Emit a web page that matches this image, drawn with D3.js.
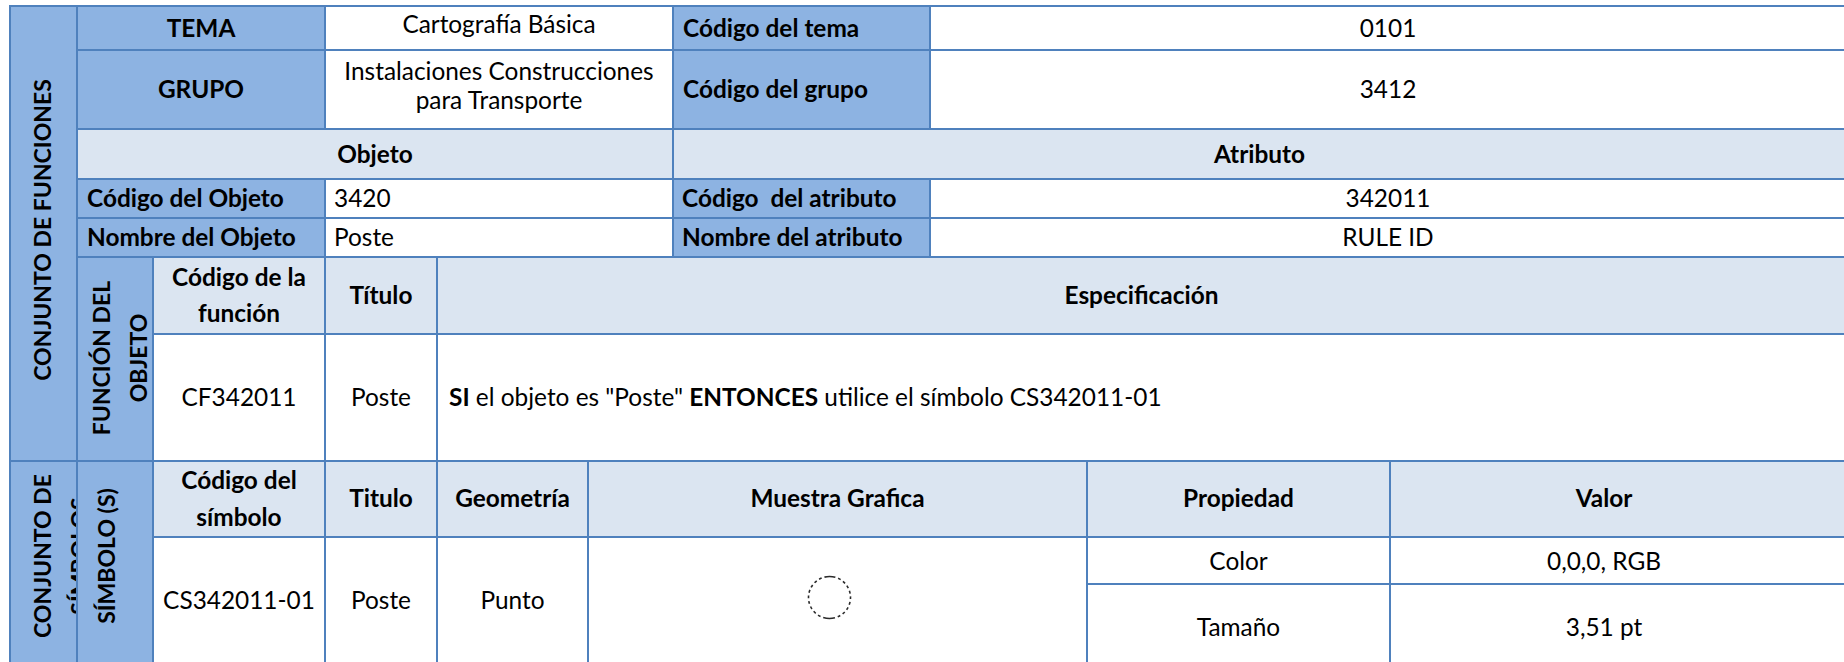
<!DOCTYPE html>
<html><head><meta charset="utf-8">
<script src="https://cdn.jsdelivr.net/npm/d3@7"></script>
<style>
html,body{margin:0;padding:0;background:#fff;overflow:hidden}
svg{display:block}
text{font-family:Lato,"Open Sans",sans-serif;fill:#000}
</style></head><body><svg id="c" width="1844" height="662"></svg>
<script>
// ---------------- data (texts of the table) ----------------
const temaRow = ["TEMA", "Cartografía Básica", "Código del tema", "0101"];
const grupoRow = ["GRUPO", ["Instalaciones Construcciones", "para Transporte"], "Código del grupo", "3412"];
const sectionHeaders = ["Objeto", "Atributo"];
const objetoCodeRow = ["Código del Objeto", "3420", "Código  del atributo", "342011"];
const objetoNameRow = ["Nombre del Objeto", "Poste", "Nombre del atributo", "RULE ID"];
const groupLabels = [["CONJUNTO DE FUNCIONES"], ["CONJUNTO DE", "SÍMBOLOS"]];
const subgroupLabels = [["FUNCIÓN DEL", "OBJETO"], ["SÍMBOLO (S)"]];
const functionHeaders = [["Código de la", "función"], "Título", "Especificación"];
const functionRow = ["CF342011", "Poste"];
const specParts = [["SI", true], [" el objeto es \"Poste\" ", false], ["ENTONCES", true], [" utilice el símbolo CS342011-01", false]];
const symbolHeaders = [["Código del", "símbolo"], "Titulo", "Geometría", "Muestra Grafica", "Propiedad", "Valor"];
const symbolRow = ["CS342011-01", "Poste", "Punto"];
const propNames = ["Color", "Tamaño"];
const propValues = ["0,0,0, RGB", "3,51 pt"];

// ---------------- layout ----------------
const X = d3.scaleOrdinal()
  .domain(["L", "g", "s", "lab", "tit", "geo", "mid", "code", "mue", "prop", "Rv", "R"])
  .range([10, 77, 153, 325, 437, 588, 673, 930, 1087, 1390, 1818, 1846]);
const Y = d3.scaleOrdinal()
  .domain(["r0", "r1", "r2", "r3", "r4", "r5", "r6", "r7", "r8", "r9", "B"])
  .range([6, 50, 129, 179, 218, 257, 334, 461, 537, 584, 664]);

const FS = 24.4, FSV = 23;
const COL = {label: "#8DB3E2", head: "#DBE5F1", val: "#FFFFFF", line: "#4F81BD"};

const cells = [];
function cell(c0, c1, r0, r1, fill, text, opt) {
  cells.push(Object.assign({c0, c1, r0, r1, fill, text}, opt || {}));
}
// left group columns
cell("L", "g", "r0", "r7", "label", groupLabels[0], {vertical: true, base: [51], cy: 230});
cell("L", "g", "r7", "B", "label", groupLabels[1], {vertical: true, base: [51, 88], cy: 556, clip: true});
// header block rows
[[temaRow, "r0", "r1"], [grupoRow, "r1", "r2"]].forEach(([row, a, b]) => {
  cell("g", "lab", a, b, "label", row[0], {bold: true});
  cell("lab", "mid", a, b, "val", row[1], {gap: 28.5, shift: -3.5});
  cell("mid", "code", a, b, "label", row[2], {bold: true, align: "left"});
  cell("code", "R", a, b, "val", row[3]);
});
cell("g", "mid", "r2", "r3", "head", sectionHeaders[0], {bold: true});
cell("mid", "R", "r2", "r3", "head", sectionHeaders[1], {bold: true});
[[objetoCodeRow, "r3", "r4"], [objetoNameRow, "r4", "r5"]].forEach(([row, a, b]) => {
  cell("g", "lab", a, b, "label", row[0], {bold: true, align: "left"});
  cell("lab", "mid", a, b, "val", row[1], {align: "left", pad: 9});
  cell("mid", "code", a, b, "label", row[2], {bold: true, align: "left", pad: 9});
  cell("code", "R", a, b, "val", row[3]);
});
// function block
cell("g", "s", "r5", "r7", "label", subgroupLabels[0], {vertical: true, base: [110, 147], cy: 358, clip: true});
cell("s", "lab", "r5", "r6", "head", functionHeaders[0], {bold: true, gap: 36.6});
cell("lab", "tit", "r5", "r6", "head", functionHeaders[1], {bold: true});
cell("tit", "R", "r5", "r6", "head", functionHeaders[2], {bold: true});
cell("s", "lab", "r6", "r7", "val", functionRow[0]);
cell("lab", "tit", "r6", "r7", "val", functionRow[1]);
cell("tit", "R", "r6", "r7", "val", null, {rich: specParts, align: "left", pad: 12});
// symbol block
cell("g", "s", "r7", "B", "label", subgroupLabels[1], {vertical: true, base: [115], cy: 556});
const symCols = [["s", "lab"], ["lab", "tit"], ["tit", "geo"], ["geo", "mue"], ["mue", "prop"], ["prop", "R"]];
symbolHeaders.forEach((h, i) => {
  cell(symCols[i][0], symCols[i][1], "r7", "r8", "head", h,
       {bold: true, gap: 37, shift: -0.5, cx: i === 5 ? "Rv" : null});
});
symbolRow.forEach((t, i) => cell(symCols[i][0], symCols[i][1], "r8", "B", "val", t));
cell("geo", "mue", "r8", "B", "val", null, {symbol: true});
[["r8", "r9"], ["r9", "B"]].forEach(([a, b], i) => {
  cell("mue", "prop", a, b, "val", propNames[i], {shift: i === 1 ? 3 : 1});
  cell("prop", "R", a, b, "val", propValues[i], {cx: "Rv", shift: i === 1 ? 3 : 1});
});

// ---------------- render ----------------
const svg = d3.select("#c");
const defs = svg.append("defs");
const gFill = svg.append("g");
const gText = svg.append("g");
const gLine = svg.append("g");

cells.forEach((d, i) => {
  const x0 = X(d.c0), x1 = X(d.c1), y0 = Y(d.r0), y1 = Y(d.r1);
  gFill.append("rect").attr("x", x0).attr("y", y0)
    .attr("width", x1 - x0).attr("height", y1 - y0).attr("fill", COL[d.fill]);
  gLine.append("rect").attr("x", x0).attr("y", y0)
    .attr("width", x1 - x0).attr("height", y1 - y0)
    .attr("fill", "none").attr("stroke", COL.line).attr("stroke-width", 2);

  if (d.vertical) {
    let g = gText.append("g");
    if (d.clip) {
      defs.append("clipPath").attr("id", "cp" + i).append("rect")
        .attr("x", x0 + 1).attr("y", y0 + 1).attr("width", x1 - x0 - 2).attr("height", y1 - y0 - 2);
      g.attr("clip-path", "url(#cp" + i + ")");
    }
    d.text.forEach((t, k) => {
      g.append("text")
        .attr("transform", `translate(${d.base[k]},${d.cy}) rotate(-90)`)
        .attr("text-anchor", "middle")
        .attr("font-size", FSV).attr("font-weight", "bold")
        .text(t);
    });
    return;
  }
  if (d.symbol) {
    const cx = (x0 + x1) / 2 - 8, cy = (y0 + y1) / 2 - 3, r = 21;
    const p = d3.path();
    p.moveTo(cx, cy - r);
    p.arc(cx, cy, r, -Math.PI / 2, 3 * Math.PI / 2);
    const C = 2 * Math.PI * r, side = C / 2 - 12, g = side / 19;
    const dash = [6];
    [12, 6].forEach(end => { d3.range(9).forEach(() => dash.push(g, g)); dash.push(g, end); });
    dash.push(0);
    gText.append("path").attr("d", p.toString()).attr("fill", "none")
      .attr("stroke", "#2a2a2a").attr("stroke-width", 1.6)
      .attr("stroke-dasharray", dash.join(" "));
    return;
  }
  const left = d.align === "left";
  const tx = left ? x0 + (d.pad || 10) : (x0 + (d.cx ? X(d.cx) : x1)) / 2;
  const cy = (y0 + y1) / 2 + (d.shift || 0);
  if (d.rich) {
    const t = gText.append("text").attr("x", tx).attr("y", cy).attr("dy", "0.35em")
      .attr("font-size", FS).attr("text-anchor", "start")
      .style("white-space", "pre");
    d.rich.forEach(([s, b]) => t.append("tspan").attr("font-weight", b ? "bold" : "normal").text(s));
    return;
  }
  const lines = Array.isArray(d.text) ? d.text : [d.text];
  lines.forEach((s, k) => {
    gText.append("text")
      .attr("x", tx)
      .attr("y", cy + (k - (lines.length - 1) / 2) * (d.gap || 0))
      .attr("dy", "0.35em")
      .attr("font-size", FS)
      .attr("font-weight", d.bold ? "bold" : "normal")
      .attr("text-anchor", left ? "start" : "middle")
      .style("white-space", "pre")
      .text(s);
  });
});
</script></body></html>
